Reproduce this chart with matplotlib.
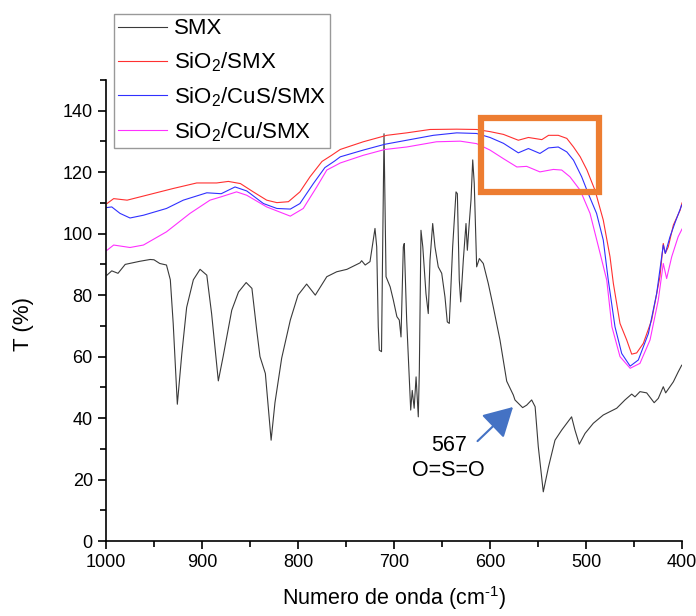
import matplotlib
matplotlib.use('Agg')
import matplotlib.pyplot as plt
from matplotlib.patches import Rectangle
from matplotlib.ticker import MultipleLocator
import numpy as np

plt.rcParams['font.family'] = ['Liberation Sans', 'DejaVu Sans']
plt.rcParams['mathtext.fontset'] = 'custom'
plt.rcParams['mathtext.rm'] = 'Liberation Sans'
plt.rcParams['mathtext.it'] = 'Liberation Sans'

# --- data (wavenumber, transmittance) ---
smx_wn = [999, 994, 987.5, 980, 965, 954, 950, 944, 937, 933, 930, 925.7, 921, 916, 909, 902, 895,
          890, 883, 878, 869, 862, 854, 848, 843, 839.6, 834, 828, 824, 817, 808, 800, 791, 782,
          770, 759.7, 749, 735.4, 733.7, 730, 725, 719.8, 718, 716.4, 715.3, 713, 712, 710.4,
          708.3, 704, 700.7, 697, 694.5, 692.7, 690.3, 689.3, 686.8, 684, 682.6, 681, 679, 677,
          674.7, 673.6, 671.9, 670, 666.7, 664.3, 662.5, 659.7, 657.3, 653.9, 650.3, 646.9, 644.5,
          642.4, 638.9, 635.4, 634, 632, 630.5, 627.8, 625, 623.6, 621.9, 619.8, 618, 616.4, 613.9,
          611.1, 607, 601.8, 596.6, 589.6, 582.6, 575.7, 574, 566, 561.8, 556.6, 553, 549.7, 544.5,
          539, 532.3, 525.3, 515, 511.5, 507, 501, 492.4, 482, 468, 459.4, 452.4, 449, 443.8,
          436.8, 429, 424.7, 419.5, 417, 409, 404, 400.3]
smx_t = [86.5, 87.9, 87.1, 90, 91, 91.6, 91.5, 90.3, 89.8, 85, 70.8, 44.5, 61, 76, 85, 88.4, 86.5,
         74, 52.1, 60, 75.1, 81, 84.1, 82.2, 68.6, 60, 54.5, 32.8, 45, 59.5, 71.9, 80, 83.6, 80,
         86, 87.6, 88.4, 90.5, 91.2, 89.8, 90.9, 101.7, 95.7, 69.7, 62.1, 61.6, 90.3, 132.5,
         86, 82.7, 78.4, 73, 71.9, 66.4, 95.7, 96.8, 71.9, 52.4, 42.6, 49, 43.2, 53.4,
         40.4, 55.6, 101.1, 95.7, 80.5, 74, 91.4, 103.3, 95.7, 89.2, 87.1, 79.4, 71.3,
         70.8, 95.7, 113.6, 113, 84.9, 77.8, 91.4, 103.3, 94.6, 102.2, 110.9, 124, 116.3, 89.2,
         91.9, 90.3, 83.8, 76.2, 65.4, 52, 47.5, 45.9, 43.4, 44.2, 45.9, 43.7, 30.7, 16,
         24.2, 32.8, 36.1, 40.4, 36.1, 31.5, 35, 38.3, 41, 43.2, 45.9, 47.8, 46.9, 48.6,
         48.2, 45, 46.4, 50.2, 48.2, 51.8, 55, 57.2]

sio2_wn = [999, 992, 978, 954, 930, 905.5, 884.7, 872.6, 860, 846.6, 832.6, 822, 810, 798, 787.5,
           775, 765, 756, 732, 707.6, 686.8, 662.5, 634.7, 613.9, 600, 586, 570.5, 560, 546, 539,
           528.9, 520, 513, 506, 499, 490.6, 482, 475, 471.5, 464.6, 457.6, 452.4, 447.2, 440.3,
           431.6, 423, 419.5, 417.4, 414.3, 409, 402, 400]
sio2_t = [109.8, 111.4, 110.9, 112.8, 114.7, 116.5, 116.5, 117, 116.3, 113.6, 110.9, 110.1, 110.4,
          113.6, 118.5, 123.5, 125.5, 127.4, 129.9, 132, 132.8, 133.9, 134, 133.9, 133.2, 132.3,
          130.4, 131.3, 130.6, 132, 132, 131, 128.2, 125, 120.7, 114.1, 104.4, 92.5, 83.8, 70.8,
          65.4, 60.8, 61.2, 64.3, 71.9, 86, 96.8, 93.6, 95.7, 102.8, 107.6, 110]

cus_wn = [999, 994, 985.4, 975, 961, 937, 919.5, 895, 880, 865.6, 853.4, 836, 822, 808, 798, 784,
          772, 762, 756, 732, 709.4, 686.8, 659, 634.7, 614, 600, 586, 570.5, 560, 548, 539,
          528.9, 520, 513, 504.5, 497.6, 489, 482, 476.8, 469.8, 462.8, 454, 445.5, 435, 426.4,
          419.5, 417.4, 412.5, 407, 400.3]
cus_t = [108.5, 108.7, 106.6, 105.1, 106, 108.2, 110.9, 113.3, 113, 115.2, 113.9, 109.8, 108.2, 108,
         109.8, 116.3, 121.5, 123.6, 125, 127.2, 129.1, 130.4, 132, 132.8, 132.6, 131.3, 129.4,
         126.3, 127.7, 126.1, 127.9, 128.2, 126.6, 123.9, 118.5, 113, 106.6, 97.9, 84.9, 69.7,
         61, 56.9, 58.9, 67.5, 80.5, 96.3, 93.6, 99, 103.8, 109.3]

cu_wn = [999, 992, 975, 961, 937, 912.5, 891.7, 880, 864, 853.4, 832.6, 808, 794.5, 780.5, 770, 762,
         756, 732, 709.4, 686.8, 655.7, 631, 614, 600, 586, 572, 561.8, 548, 534, 525.3, 516.7,
         506, 495.8, 487, 478.4, 473, 464.6, 454, 443.8, 433.3, 424.7, 419.5, 416, 410.7, 404, 400]
cu_t = [94.6, 96.3, 95.5, 96.3, 100.6, 106.6, 110.9, 112, 113.6, 112.5, 108.7, 105.7, 108.2, 115.2,
        120.7, 122, 123, 125.5, 127.4, 128.2, 129.9, 130.1, 129.3, 127.2, 124.4, 121.7, 121.9,
        120.1, 120.9, 120.7, 118.5, 114.1, 106.6, 95.7, 84.9, 69.7, 60, 56.2, 57.8, 65.4, 78.4,
        90.3, 85.4, 92.5, 99, 101.5]

labels = ['SMX', r'SiO$_2$/SMX', r'SiO$_2$/CuS/SMX', r'SiO$_2$/Cu/SMX']
colors = ['#3a3a3a', '#ff3030', '#3030ff', '#ff30ff']

fig = plt.figure(figsize=(6.96, 6.16), dpi=100)
ax = fig.add_axes([106 / 696, 75 / 616, 576 / 696, 461 / 616])

series = [(smx_wn, smx_t), (sio2_wn, sio2_t), (cus_wn, cus_t), (cu_wn, cu_t)]
handles = []
for (wn, t), lab, c in zip(series, labels, colors):
    h, = ax.plot(wn, t, color=c, lw=0.8, label=lab)
    handles.append(h)

ax.set_xlim(1000, 400)
ax.set_ylim(0, 150)
ax.set_yticks(np.arange(0, 141, 20))
ax.xaxis.set_major_locator(MultipleLocator(100))
ax.xaxis.set_minor_locator(MultipleLocator(50))
ax.yaxis.set_minor_locator(MultipleLocator(10))
ax.tick_params(which='major', direction='out', length=6, width=1.2, labelsize=13)
ax.tick_params(which='minor', direction='out', length=4, width=1.2)
for s in ['top', 'right']:
    ax.spines[s].set_visible(False)
for s in ['left', 'bottom']:
    ax.spines[s].set_linewidth(1.2)

ax.set_xlabel(r'Numero de onda (cm$^{\text{-1}}$)', fontsize=15.5)
ax.set_ylabel('T (%)', fontsize=16)
ax.xaxis.set_label_coords(0.5, -0.094)
ax.yaxis.set_label_coords(-0.125, 0.47)

# highlight box
ax.add_patch(Rectangle((486.5, 113.5), 609.4 - 486.5, 137.6 - 113.5, fill=False,
                       edgecolor='#ED7D31', lw=4.5, clip_on=False, zorder=5))

# annotation
ax.annotate('', xy=(576, 43.6), xytext=(613, 32.5),
            arrowprops=dict(arrowstyle='-|>,head_length=0.9,head_width=0.5',
                            color='#4472C4', lw=1.5, mutation_scale=20, shrinkA=0, shrinkB=0))
ax.text(643, 27, '567\nO=S=O', ha='center', va='center', fontsize=15.5, linespacing=1.2)

leg = fig.legend(handles=handles, loc='upper left', bbox_to_anchor=(114 / 696, 1 - 14 / 616),
                 fontsize=16, frameon=True, fancybox=False, handlelength=2.2, borderpad=0.2,
                 labelspacing=0.5, handletextpad=0.3, borderaxespad=0)
leg.get_frame().set_edgecolor('#808080')
leg.get_frame().set_linewidth(1.0)

fig.savefig('out.png', dpi=100)
